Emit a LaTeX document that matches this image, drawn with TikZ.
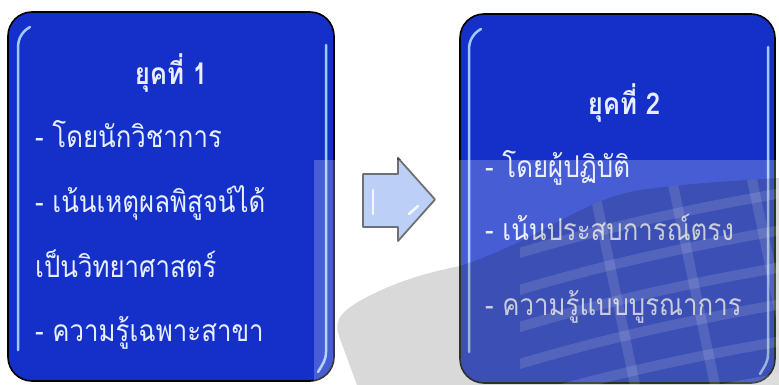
\documentclass[tikz,border=0pt]{standalone}
\usepackage{fontspec}
\usepackage{tikz}
\usepackage{xcolor}
\usetikzlibrary{shapes,arrows,positioning,calc}

\newfontfamily\thaifont[Script=Thai]{Loma}

\definecolor{eraBlue}{RGB}{20,48,200}
\definecolor{eraShine}{RGB}{160,200,255}
\definecolor{arrowBlue}{RGB}{170,196,245}
\definecolor{arrowEdge}{RGB}{72,72,76}
\definecolor{eraText}{RGB}{232,238,255}

\newcommand{\thsx}{0.86}
\newcommand{\thline}[1]{\scalebox{\thsx}[1]{#1}}

\tikzset{
  erabox/.style={draw=black, line width=1.6pt, fill=eraBlue, rounded corners=24pt,
                 inner sep=0pt},
  shine/.style={draw=eraShine, line width=2.5pt, line cap=round},
  eraline/.style={anchor=base west, text=eraText, inner sep=0pt,
                  font=\thaifont\fontsize{30}{30}\selectfont},
  eratitle/.style={eraline, anchor=base,
                   font=\thaifont\bfseries\fontsize{30}{30}\selectfont},
}

\begin{document}
\begin{tikzpicture}[x=1pt, y=-1pt]
    \useasboundingbox (0,0) rectangle (779,385);
    \fill[white] (0,0) rectangle (779,385);

    % the two eras
    \node[erabox, minimum width=326pt, minimum height=369pt] (era1) at (171,196.5) {};
    \node[erabox, minimum width=315pt, minimum height=369pt] (era2) at (617.5,198.5) {};

    % glossy edges
    \draw[shine] (30,27) to[out=210,in=90] (18,48) -- (18,350);
    \draw[shine] (326,45) -- (326,352) to[out=-90,in=60] (318,372);
    \draw[shine] (481,29) to[out=210,in=90] (469,50) -- (469,352);
    \draw[shine] (768,47) -- (768,354) to[out=-90,in=60] (760,374);

    % arrow between the eras
    \draw[draw=arrowEdge, fill=arrowBlue, line width=1.8pt, line join=round]
        (363,174) -- (398,174) -- (398,158) -- (435,199.5)
        -- (398,241) -- (398,227) -- (363,227) -- cycle;
    \draw[white, line width=2.5pt, line cap=round, opacity=0.85] (373,190) -- (373,214);
    \draw[white, line width=2.5pt, line cap=round, opacity=0.85] (409,214) -- (418,206);

    % era 1
    \node[eratitle] (title1) at (171,85) {\thline{ยุคที่ 1}};
    \foreach \y/\txt in {148/- โดยนักวิชาการ, 212/- เน้นเหตุผลพิสูจน์ได้,
                         277/เป็นวิทยาศาสตร์, 341/- ความรู้เฉพาะสาขา}
        \node[eraline] at (35,\y) {\thline{\txt}};

    % era 2
    \node[eratitle] (title2) at (624,115) {\thline{ยุคที่ 2}};
    \foreach \y/\txt in {177/- โดยผู้ปฏิบัติ, 240/- เน้นประสบการณ์ตรง,
                         315/- ความรู้แบบบูรณาการ}
        \node[eraline] at (485,\y) {\thline{\txt}};

    % faded backdrop with globe
    \fill[white, opacity=0.22] (314,160) rectangle (779,385);
    \newcommand{\globe}{(357,385) -- (339,336) .. controls (333,320) and (342,310) .. (367,297)
        .. controls (400,280) and (430,272) .. (460,266)
        .. controls (540,240) and (580,200) .. (640,190)
        .. controls (700,182) and (750,180) .. (779,178) -- (779,385) -- cycle}
    \fill[black, opacity=0.15] \globe;
    \begin{scope}
        \clip (520,0) rectangle (779,385);
        \clip \globe;
        % parallels
        \foreach \d in {0,37,74,111,148,185}
            \draw[white, opacity=0.12, line width=10pt]
                (480,265+\d) .. controls (560,240+\d) and (650,215+\d) .. (800,190+\d);
        % meridians
        \foreach \x in {590,670,750}
            \draw[white, opacity=0.12, line width=10pt] (\x,170) -- (\x+45,385);
    \end{scope}
\end{tikzpicture}
\end{document}
